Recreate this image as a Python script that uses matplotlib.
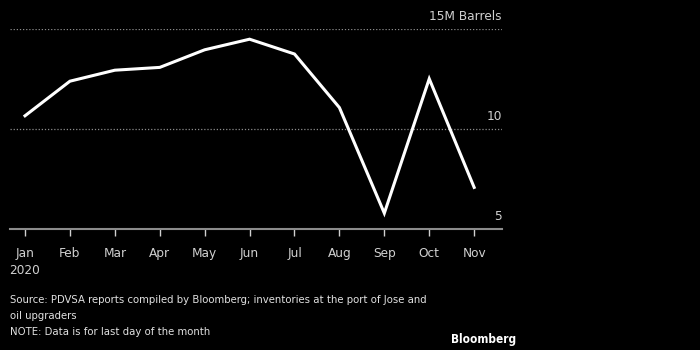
import matplotlib.pyplot as plt
from matplotlib import font_manager

months = ['Jan', 'Feb', 'Mar', 'Apr', 'May', 'Jun', 'Jul', 'Aug', 'Sep', 'Oct', 'Nov']
inventory = [10.66, 12.39, 12.94, 13.08, 13.96, 14.49, 13.75, 11.07, 5.79, 12.51, 7.08]
ytick_vals = [5, 10, 15]
ytick_labels = ['5', '10', '15M Barrels']
notes = ['Source: PDVSA reports compiled by Bloomberg; inventories at the port of Jose and',
         'oil upgraders',
         'NOTE: Data is for last day of the month']

# look for a narrow face; Bloomberg charts use a condensed font
narrow = [f for f in font_manager.fontManager.ttflist
          if f.stretch in ('condensed', 'semi-condensed', 'extra-condensed') or 'Narrow' in f.name
          or 'Condensed' in f.name]
if narrow:
    plt.rcParams['font.family'] = narrow[0].name
    plt.rcParams['font.stretch'] = narrow[0].stretch
    scale = 1.0
else:
    plt.rcParams['font.family'] = 'DejaVu Sans'
    scale = 0.8

fs = 9.7 * scale
fig = plt.figure(figsize=(7, 3.5), dpi=100, facecolor='black')
ax = fig.add_axes([10 / 700, 1 - 229 / 350, 492 / 700, 200 / 350])
ax.set_facecolor('black')

x = list(range(len(months)))
ax.plot(x, inventory, color='white', lw=2.2, solid_joinstyle='miter', zorder=3)

# chart format
ax.set_xlim(-0.334, 10.62)
ax.set_ylim(5, 15)
for s in ['top', 'left', 'right']:
    ax.spines[s].set_visible(False)
ax.spines['bottom'].set_color('#8c8c8c')
ax.spines['bottom'].set_linewidth(1.5)

for v in ytick_vals[1:]:
    ax.axhline(v, color='#8c8c8c', lw=0.9, ls=(0, (1, 1.5)), zorder=1)
for v, lab in zip(ytick_vals, ytick_labels):
    ax.annotate(lab, (1.0, v), xycoords=ax.get_yaxis_transform(), xytext=(0, 4),
                textcoords='offset points', ha='right', va='bottom',
                color='#d0d0d0', fontsize=fs)

ax.set_yticks([])
ax.set_xticks(x)
ax.set_xticklabels(months)
ax.tick_params(axis='x', colors='#d0d0d0', labelcolor='#d0d0d0', length=5, width=1,
               labelsize=fs, pad=8)
fig.text(25 / 700, 1 - 270 / 350, '2020', ha='center', va='center',
         color='#d0d0d0', fontsize=fs)

for i, line in enumerate(notes):
    fig.text(10 / 700, 1 - (300 + 16.2 * i) / 350, line, ha='left', va='center',
             color='#e0e0e0', fontsize=8.1 * scale)
fig.text(516 / 700, 1 - 340 / 350, 'Bloomberg', ha='right', va='center',
         color='white', fontsize=8.5 * scale, fontweight='bold')

fig.savefig('out.png', dpi=100, facecolor='black')
